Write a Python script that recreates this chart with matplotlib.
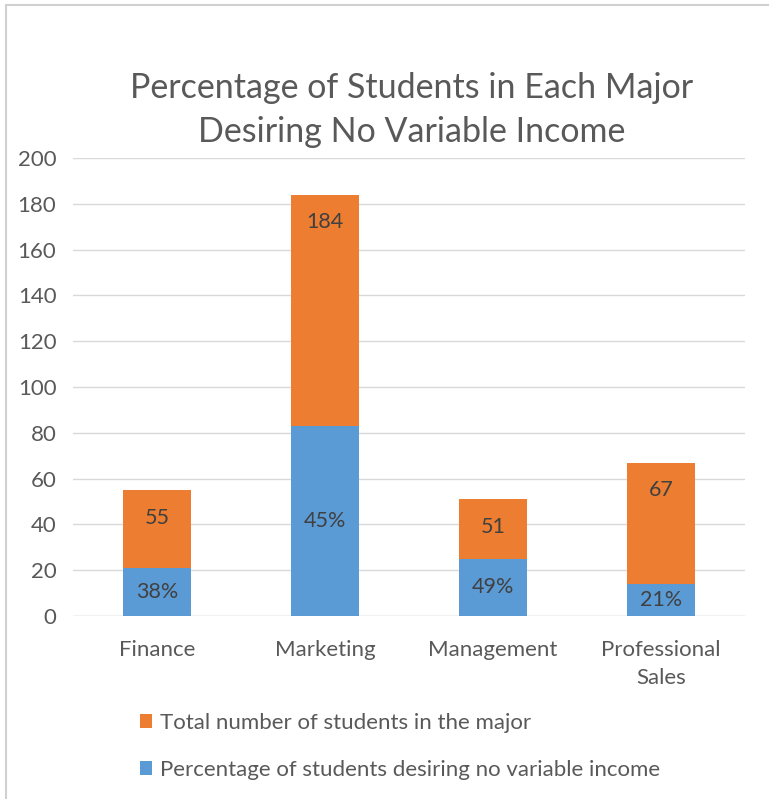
import matplotlib.pyplot as plt
from matplotlib.patches import Patch

majors = ["Finance", "Marketing", "Management", "Professional\nSales"]
total_students = [55, 184, 51, 67]
pct_no_variable = [38, 45, 49, 21]

orange = "#ED7D31"
blue = "#5B9BD5"
text_gray = "#595959"
label_gray = "#404040"

plt.rcParams["font.family"] = ["Lato", "DejaVu Sans"]

fig = plt.figure(figsize=(7.69, 7.99), dpi=100)
ax = fig.add_axes([73 / 769, 1 - 616 / 799, 672 / 769, 458 / 799])

x = list(range(len(majors)))
blue_heights = [t * p / 100 for t, p in zip(total_students, pct_no_variable)]

ax.bar(x, total_students, width=0.4, color=orange, zorder=2)
ax.bar(x, blue_heights, width=0.4, color=blue, zorder=3)

for xi, t, b, p in zip(x, total_students, blue_heights, pct_no_variable):
    # total count sits just inside the top of the orange bar
    ax.annotate(f"{t}", xy=(xi, t), xytext=(0, -20), textcoords="offset points",
                ha="center", va="center", fontsize=15.5, color=label_gray, zorder=4)
    # percentage is centred in the blue bar
    ax.text(xi, b / 2, f"{p}%", ha="center", va="center",
            fontsize=15.5, color=label_gray, zorder=4)

ax.set_xlim(-0.5, 3.5)
ax.set_ylim(0, 200)
ax.set_yticks(range(0, 201, 20))
ax.set_xticks(x)
ax.set_xticklabels(majors, fontsize=16, color=text_gray, linespacing=1.5)
ax.tick_params(axis="y", labelsize=16, labelcolor=text_gray, length=0, pad=12)
ax.tick_params(axis="x", length=0, pad=17)
ax.grid(axis="y", color="#D9D9D9", linewidth=1, zorder=0)
for s in ax.spines.values():
    s.set_visible(False)
ax.axhline(0, color="#D9D9D9", linewidth=1, zorder=1)

fig.text(412 / 769, 1 - 110 / 799,
         "Percentage of Students in Each Major\nDesiring No Variable Income",
         ha="center", va="center", fontsize=24.5, color=text_gray, linespacing=1.5)

handles = [Patch(facecolor=orange, label="Total number of students in the major"),
           Patch(facecolor=blue, label="Percentage of students desiring no variable income")]
fig.legend(handles=handles, loc="upper left", bbox_to_anchor=(120 / 769, 1 - 693 / 799),
           frameon=False, fontsize=16, labelcolor=text_gray, handlelength=0.55,
           handleheight=0.55, handletextpad=0.35, labelspacing=1.2)

# thin light frame around the chart area
frame = plt.Rectangle((6 / 769, -0.01), 1.02, 1 - 5 / 799 + 0.01, transform=fig.transFigure,
                      fill=False, edgecolor="#D0D0D0", linewidth=1.5)
fig.patches.append(frame)

fig.savefig("out.png", dpi=100, facecolor="white")
